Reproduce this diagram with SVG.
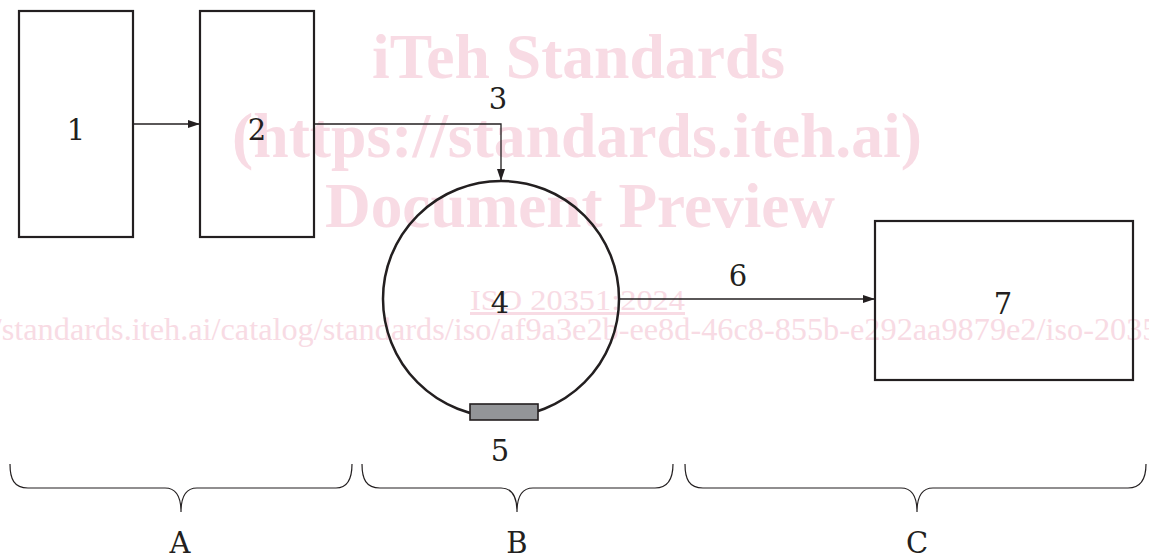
<svg xmlns="http://www.w3.org/2000/svg" width="1149" height="558" viewBox="0 0 1149 558">
<style>
.wm{fill:#f8dbe4;font-family:"Liberation Serif",serif}
.wmb{font-weight:bold;font-size:64px}
.box{fill:none;stroke:#231f20;stroke-width:2.2}
.lbl{font-family:"DejaVu Serif","Liberation Serif",serif;font-size:29px;fill:#231f20;text-anchor:middle}
.con{fill:none;stroke:#231f20;stroke-width:1.3}
.brace{fill:none;stroke:#231f20;stroke-width:1.2}
</style>
<defs>
<marker id="arr" viewBox="0 0 12 8" refX="12" refY="4" markerWidth="12" markerHeight="8" markerUnits="userSpaceOnUse" orient="auto">
<path d="M0,0 L12,4 L0,8 Z" fill="#231f20"/>
</marker>
</defs>
<g id="watermark" class="wm">
<text class="wmb" x="372" y="78" textLength="413" lengthAdjust="spacingAndGlyphs">iTeh Standards</text>
<text class="wmb" x="232" y="157" textLength="690" lengthAdjust="spacingAndGlyphs">(https://standards.iteh.ai)</text>
<text class="wmb" x="325" y="227" textLength="510" lengthAdjust="spacingAndGlyphs">Document Preview</text>
<text x="470" y="310" font-size="30" textLength="215" lengthAdjust="spacingAndGlyphs" text-decoration="underline">ISO 20351:2024</text>
<text x="-88" y="340" font-size="31" textLength="1338" lengthAdjust="spacingAndGlyphs">https://standards.iteh.ai/catalog/standards/iso/af9a3e2b-ee8d-46c8-855b-e292aa9879e2/iso-20351-2024</text>
</g>
<g id="connectors">
<path class="con" d="M133,124 H200" marker-end="url(#arr)"/>
<path class="con" d="M314,124 H501 V181" marker-end="url(#arr)"/>
<path class="con" d="M619,299 H875" marker-end="url(#arr)"/>
<text class="lbl" x="498" y="109">3</text>
<text class="lbl" x="738" y="286">6</text>
</g>
<g id="node1">
<rect class="box" x="19" y="11" width="114" height="226"/>
<text class="lbl" x="76" y="140">1</text>
</g>
<g id="node2">
<rect class="box" x="200" y="11" width="114" height="226"/>
<text class="lbl" x="257" y="140">2</text>
</g>
<g id="node4">
<circle cx="501" cy="299" r="118" fill="none" stroke="#231f20" stroke-width="2.5"/>
<text class="lbl" x="500" y="313">4</text>
</g>
<g id="node5">
<rect x="470" y="404" width="68" height="16" fill="#939598" stroke="#231f20" stroke-width="1.6"/>
<text class="lbl" x="500" y="461">5</text>
</g>
<g id="node7">
<rect class="box" x="875" y="221" width="258" height="159"/>
<text class="lbl" x="1003" y="314">7</text>
</g>
<g id="braces">
<path class="brace" d="M10,464 C10,479 14,488 28,488 L165,488 C176,488 181,496 181,512 C181,496 186,488 197,488 L336,488 C348,488 352,479 352,464"/>
<path class="brace" d="M362,464 C362,479 366,488 380,488 L501,488 C512,488 517,496 517,512 C517,496 522,488 533,488 L655,488 C668,488 673,479 673,464"/>
<path class="brace" d="M685,464 C685,479 689,488 703,488 L901,488 C912,488 917,496 917,512 C917,496 922,488 933,488 L1128,488 C1141,488 1146,479 1146,464"/>
<text class="lbl" x="180" y="553">A</text>
<text class="lbl" x="517" y="553">B</text>
<text class="lbl" x="917" y="553">C</text>
</g>
</svg>
